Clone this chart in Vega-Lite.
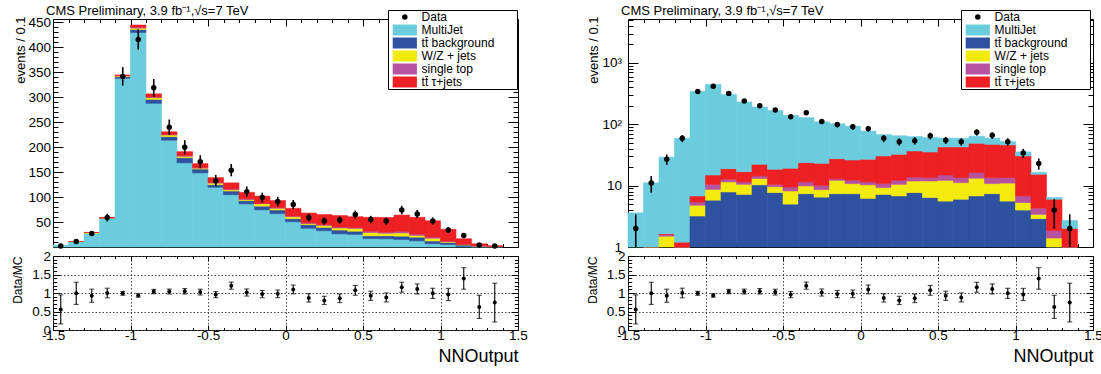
{
  "$schema": "https://vega.github.io/schema/vega-lite/v6.json",
  "background": "white",
  "padding": {"left": 11, "top": 4, "right": 5, "bottom": 5},
  "datasets": {
    "bins": [
      {"lo":-1.5,"hi":-1.4,"c":-1.45,"mj":3.6,"ttbg":0,"wz":0,"st":0,"tau":0,"n":2,"nlo":0.59,"nhi":3.41,"r":0.556,"rlo":0.163,"rhi":0.949},
      {"lo":-1.4,"hi":-1.3,"c":-1.35,"mj":11.0,"ttbg":0,"wz":0.05,"st":0,"tau":0.05,"n":11,"nlo":7.68,"nhi":14.32,"r":0.991,"rlo":0.692,"rhi":1.29},
      {"lo":-1.3,"hi":-1.2,"c":-1.25,"mj":27.5,"ttbg":0,"wz":1.5,"st":0.1,"tau":0.05,"n":27,"nlo":21.8,"nhi":32.2,"r":0.926,"rlo":0.748,"rhi":1.104},
      {"lo":-1.2,"hi":-1.1,"c":-1.15,"mj":57.8,"ttbg":0.2,"wz":0.3,"st":0.2,"tau":0.5,"n":59,"nlo":51.3,"nhi":66.7,"r":1.0,"rlo":0.87,"rhi":1.13},
      {"lo":-1.1,"hi":-1.0,"c":-1.05,"mj":338,"ttbg":3.2,"wz":1.6,"st":0.6,"tau":1.4,"n":342,"nlo":323.5,"nhi":360.5,"r":0.992,"rlo":0.938,"rhi":1.045},
      {"lo":-1.0,"hi":-0.9,"c":-0.95,"mj":430,"ttbg":5.8,"wz":2.9,"st":1.8,"tau":4.4,"n":416,"nlo":395.6,"nhi":436.4,"r":0.935,"rlo":0.889,"rhi":0.981},
      {"lo":-0.9,"hi":-0.8,"c":-0.85,"mj":288,"ttbg":7.9,"wz":3.6,"st":1.2,"tau":6.2,"n":319,"nlo":301.1,"nhi":336.9,"r":1.039,"rlo":0.981,"rhi":1.098},
      {"lo":-0.8,"hi":-0.7,"c":-0.75,"mj":214,"ttbg":7.2,"wz":3.3,"st":1.0,"tau":5.4,"n":240,"nlo":224.5,"nhi":255.5,"r":1.039,"rlo":0.972,"rhi":1.106},
      {"lo":-0.7,"hi":-0.6,"c":-0.65,"mj":168.7,"ttbg":10.3,"wz":2.8,"st":1.3,"tau":7.9,"n":200,"nlo":185.9,"nhi":214.1,"r":1.047,"rlo":0.973,"rhi":1.121},
      {"lo":-0.6,"hi":-0.5,"c":-0.55,"mj":148.5,"ttbg":7.7,"wz":1.9,"st":0.9,"tau":8.0,"n":171,"nlo":157.9,"nhi":184.1,"r":1.024,"rlo":0.946,"rhi":1.102},
      {"lo":-0.5,"hi":-0.4,"c":-0.45,"mj":119.8,"ttbg":5.0,"wz":3.2,"st":1.3,"tau":9.7,"n":133,"nlo":121.5,"nhi":144.5,"r":0.957,"rlo":0.874,"rhi":1.04},
      {"lo":-0.4,"hi":-0.3,"c":-0.35,"mj":104.8,"ttbg":7.4,"wz":2.5,"st":1.6,"tau":12.2,"n":154,"nlo":141.6,"nhi":166.4,"r":1.198,"rlo":1.102,"rhi":1.295},
      {"lo":-0.3,"hi":-0.2,"c":-0.25,"mj":86.4,"ttbg":6.5,"wz":2.1,"st":1.5,"tau":13.0,"n":111,"nlo":100.5,"nhi":121.5,"r":1.014,"rlo":0.917,"rhi":1.11},
      {"lo":-0.2,"hi":-0.1,"c":-0.15,"mj":74.5,"ttbg":7.4,"wz":4.8,"st":0.7,"tau":14.6,"n":99,"nlo":89.1,"nhi":108.9,"r":0.971,"rlo":0.873,"rhi":1.068},
      {"lo":-0.1,"hi":0,"c":-0.05,"mj":66.8,"ttbg":7.4,"wz":3.4,"st":1.5,"tau":13.9,"n":91,"nlo":81.5,"nhi":100.5,"r":0.978,"rlo":0.876,"rhi":1.081},
      {"lo":0,"hi":0.1,"c":0.05,"mj":50.6,"ttbg":6.2,"wz":4.1,"st":1.2,"tau":15.4,"n":85,"nlo":75.8,"nhi":94.2,"r":1.097,"rlo":0.978,"rhi":1.216},
      {"lo":0.1,"hi":0.2,"c":0.15,"mj":37.5,"ttbg":7.2,"wz":2.1,"st":1.5,"tau":19.7,"n":59,"nlo":51.3,"nhi":66.7,"r":0.868,"rlo":0.755,"rhi":0.981},
      {"lo":0.2,"hi":0.3,"c":0.25,"mj":32.6,"ttbg":6.8,"wz":3.7,"st":1.7,"tau":20.2,"n":52,"nlo":44.8,"nhi":59.2,"r":0.8,"rlo":0.689,"rhi":0.911},
      {"lo":0.3,"hi":0.4,"c":0.35,"mj":26.3,"ttbg":7.7,"wz":4.2,"st":1.9,"tau":22.9,"n":54,"nlo":46.7,"nhi":61.3,"r":0.857,"rlo":0.74,"rhi":0.974},
      {"lo":0.4,"hi":0.5,"c":0.45,"mj":25.3,"ttbg":6.4,"wz":5.5,"st":1.6,"tau":21.9,"n":65,"nlo":56.9,"nhi":73.1,"r":1.071,"rlo":0.938,"rhi":1.204},
      {"lo":0.5,"hi":0.6,"c":0.55,"mj":16.8,"ttbg":5.6,"wz":6.6,"st":2.7,"tau":27.8,"n":55,"nlo":47.6,"nhi":62.4,"r":0.924,"rlo":0.8,"rhi":1.049},
      {"lo":0.6,"hi":0.7,"c":0.65,"mj":16.4,"ttbg":6.0,"wz":5.2,"st":2.3,"tau":29.2,"n":52,"nlo":44.8,"nhi":59.2,"r":0.88,"rlo":0.758,"rhi":1.002},
      {"lo":0.7,"hi":0.8,"c":0.75,"mj":15.0,"ttbg":6.8,"wz":6.4,"st":3.1,"tau":32.7,"n":74,"nlo":65.4,"nhi":82.6,"r":1.156,"rlo":1.022,"rhi":1.291},
      {"lo":0.8,"hi":0.9,"c":0.85,"mj":12.3,"ttbg":7.4,"wz":3.4,"st":2.7,"tau":33.7,"n":66,"nlo":57.9,"nhi":74.1,"r":1.109,"rlo":0.973,"rhi":1.246},
      {"lo":0.9,"hi":1.0,"c":0.95,"mj":6.5,"ttbg":5.6,"wz":5.4,"st":2.5,"tau":32.5,"n":52,"nlo":44.8,"nhi":59.2,"r":0.99,"rlo":0.853,"rhi":1.128},
      {"lo":1.0,"hi":1.1,"c":1.05,"mj":4.9,"ttbg":4.0,"wz":1.3,"st":1.5,"tau":23.7,"n":34,"nlo":28.2,"nhi":39.8,"r":0.96,"rlo":0.796,"rhi":1.125},
      {"lo":1.1,"hi":1.2,"c":1.15,"mj":1.2,"ttbg":2.9,"wz":0.5,"st":0.9,"tau":11.0,"n":23,"nlo":18.2,"nhi":27.8,"r":1.394,"rlo":1.103,"rhi":1.685},
      {"lo":1.2,"hi":1.3,"c":1.25,"mj":0.4,"ttbg":0.9,"wz":0.5,"st":0.45,"tau":4.15,"n":4,"nlo":2,"nhi":6,"r":0.625,"rlo":0.313,"rhi":0.938},
      {"lo":1.3,"hi":1.4,"c":1.35,"mj":0.7,"ttbg":0.1,"wz":0.1,"st":0.1,"tau":1.7,"n":2,"nlo":0.59,"nhi":3.41,"r":0.741,"rlo":0.217,"rhi":1.264},
      {"lo":1.4,"hi":1.5,"c":1.45,"mj":0,"ttbg":0,"wz":0,"st":0,"tau":0,"n":null,"nlo":null,"nhi":null,"r":null,"rlo":null,"rhi":null}
    ]
  },
  "bounds": "flush",
  "columns": 2,
  "spacing": {"row": 9, "column": 110},
  "resolve": {"scale": {"color": "independent", "stroke": "independent", "shape": "independent"}},
  "concat": [
    {
      "width": 465, "height": 228,
      "data": {"name": "bins"},
      "title": {"text": "CMS Preliminary, 3.9 fb⁻¹,√s=7 TeV", "anchor": "start", "frame": "group", "dx": -7, "dy": 25, "offset": 4, "baseline": "bottom", "fontSize": 13, "font": "Liberation Sans", "fontWeight": "normal", "color": "black"},
      "resolve": {"axis": {"x": "independent", "y": "independent"}},
      "layer": [
        {
          "transform": [
            {"fold": ["mj", "ttbg", "wz", "st", "tau"], "as": ["comp", "v"]},
            {"filter": "datum.v > 0"},
            {"stack": "v", "groupby": ["lo"], "as": ["v0", "v1"]}
          ],
          "mark": {"type": "rect", "strokeWidth": 0.6},
          "encoding": {
            "x": {"field": "lo", "type": "quantitative", "scale": {"domain": [-1.5, 1.5], "nice": false, "zero": false},
                  "axis": {"orient": "bottom", "values": [-1.5,-1,-0.5,0,0.5,1,1.5], "labels": false, "tickSize": -7, "title": null}},
            "x2": {"field": "hi"},
            "y": {"field": "v1", "type": "quantitative", "scale": {"domain": [0, 457], "nice": false, "zero": false},
                  "axis": {"orient": "left", "values": [50,100,150,200,250,300,350,400,450], "tickSize": -10, "labelPadding": 12.5,
                           "title": "events / 0.1", "titleX": -32.5, "titleY": -3, "titleAngle": -90, "titleAlign": "right", "titleBaseline": "middle"}},
            "y2": {"field": "v0"},
            "stroke": {"field": "comp", "type": "nominal", "legend": null,
              "scale": {"domain": ["data", "mj", "ttbg", "wz", "st", "tau"], "range": ["#000000", "#6bccdd", "#2e52a0", "#f3eb0d", "#b652a0", "#ed2024"]}},
            "color": {"field": "comp", "type": "nominal",
              "scale": {"domain": ["data", "mj", "ttbg", "wz", "st", "tau"], "range": ["#000000", "#6bccdd", "#2e52a0", "#f3eb0d", "#b652a0", "#ed2024"]},
              "legend": {
                "title": "|", "titleColor": "white", "titleOrient": "right", "titlePadding": 18, "titleFontSize": 12,
                "orient": "none", "legendX": 335, "legendY": -9, "zindex": 2,
                "strokeColor": "black", "fillColor": "white", "padding": 1, "cornerRadius": 0,
                "rowPadding": 1, "symbolOffset": 9.8, "labelOffset": 10.8,
                "symbolType": "M-2.2,-1H2.2V1H-2.2Z", "symbolSize": 121, "symbolStrokeWidth": 0,
                "labelFont": "Liberation Sans", "labelFontSize": 12, "labelColor": "black",
                "labelExpr": "datum.value == 'data' ? 'Data' : datum.value == 'mj' ? 'MultiJet' : datum.value == 'ttbg' ? 'tt̄ background' : datum.value == 'wz' ? 'W/Z + jets' : datum.value == 'st' ? 'single top' : 'tt̄ τ+jets'",
                "encode": {"symbols": {"update": {
                  "shape": {"signal": "datum.value == 'data' ? 'circle' : 'M-2.2,-1H2.2V1H-2.2Z'"},
                  "size": {"signal": "datum.value == 'data' ? 30 : 121"}}}}
              }}
          }
        },
        {
          "mark": {"type": "rule", "color": "black", "strokeWidth": 1.6},
          "encoding": {
            "x": {"field": "c", "type": "quantitative", "scale": {"domain": [-1.5, 1.5], "nice": false, "zero": false},
                  "axis": {"orient": "bottom", "values": [-1.4,-1.3,-1.2,-1.1,-0.9,-0.8,-0.7,-0.6,-0.4,-0.3,-0.2,-0.1,0.1,0.2,0.3,0.4,0.6,0.7,0.8,0.9,1.1,1.2,1.3,1.4], "labels": false, "tickSize": -3.5, "title": null}},
            "y": {"field": "nlo", "type": "quantitative", "scale": {"domain": [0, 457], "nice": false, "zero": false},
                  "axis": {"orient": "left", "values": [10,20,30,40,60,70,80,90,110,120,130,140,160,170,180,190,210,220,230,240,260,270,280,290,310,320,330,340,360,370,380,390,410,420,430,440], "labels": false, "tickSize": -5, "title": null}},
            "y2": {"field": "nhi"}
          }
        },
        {
          "mark": {"type": "point", "filled": true, "color": "black", "size": 30, "opacity": 1, "strokeWidth": 0},
          "encoding": {
            "x": {"field": "c", "type": "quantitative", "scale": {"domain": [-1.5, 1.5], "nice": false, "zero": false},
                  "axis": {"orient": "top", "values": [-1.5,-1,-0.5,0,0.5,1,1.5], "labels": false, "tickSize": -7, "title": null}},
            "y": {"field": "n", "type": "quantitative", "scale": {"domain": [0, 457], "nice": false, "zero": false},
                  "axis": {"orient": "right", "values": [50,100,150,200,250,300,350,400,450], "labels": false, "tickSize": -10, "title": null}}
          }
        },
        {
          "mark": {"type": "point", "opacity": 0},
          "encoding": {
            "x": {"field": "c", "type": "quantitative", "scale": {"domain": [-1.5, 1.5], "nice": false, "zero": false},
                  "axis": {"orient": "top", "values": [-1.4,-1.3,-1.2,-1.1,-0.9,-0.8,-0.7,-0.6,-0.4,-0.3,-0.2,-0.1,0.1,0.2,0.3,0.4,0.6,0.7,0.8,0.9,1.1,1.2,1.3,1.4], "labels": false, "tickSize": -3.5, "title": null}},
            "y": {"field": "n", "type": "quantitative", "scale": {"domain": [0, 457], "nice": false, "zero": false},
                  "axis": {"orient": "right", "values": [10,20,30,40,60,70,80,90,110,120,130,140,160,170,180,190,210,220,230,240,260,270,280,290,310,320,330,340,360,370,380,390,410,420,430,440], "labels": false, "tickSize": -5, "title": null}},
            "shape": {"field": "c", "type": "nominal",
              "scale": {"domain": ["shadow"], "range": ["square"]},
              "legend": {
                "title": null, "orient": "none", "legendX": 338, "legendY": -6, "zindex": 1,
                "padding": 0, "strokeColor": null, "fillColor": null,
                "symbolType": "M-1.65,-1H1.65V1H-1.65Z", "symbolSize": 6241, "symbolOffset": 0,
                "symbolFillColor": "black", "symbolStrokeColor": "black", "symbolStrokeWidth": 0, "symbolOpacity": 1,
                "labelExpr": "''", "labelFontSize": 1, "labelOffset": 0
              }}
          }
        }
      ]
    },
    {
      "width": 465, "height": 228,
      "data": {"name": "bins"},
      "title": {"text": "CMS Preliminary, 3.9 fb⁻¹,√s=7 TeV", "anchor": "start", "frame": "group", "dx": -7, "dy": 25, "offset": 4, "baseline": "bottom", "fontSize": 13, "font": "Liberation Sans", "fontWeight": "normal", "color": "black"},
      "resolve": {"axis": {"x": "independent", "y": "independent"}},
      "layer": [
        {
          "transform": [
            {"fold": ["ttbg", "wz", "st", "tau", "mj"], "as": ["comp", "v"]},
            {"filter": "datum.v > 0"},
            {"stack": "v", "groupby": ["lo"], "as": ["v0", "v1"]}
          ],
          "mark": {"type": "rect", "strokeWidth": 0.6},
          "encoding": {
            "x": {"field": "lo", "type": "quantitative", "scale": {"domain": [-1.5, 1.5], "nice": false, "zero": false},
                  "axis": {"orient": "bottom", "values": [-1.5,-1,-0.5,0,0.5,1,1.5], "labels": false, "tickSize": -7, "title": null}},
            "x2": {"field": "hi"},
            "y": {"field": "v1", "type": "quantitative", "scale": {"type": "log", "domain": [1, 5200], "nice": false, "clamp": true},
                  "axis": {"orient": "left", "values": [1, 10, 100, 1000], "labelExpr": "datum.value == 100 ? '10²' : datum.value == 1000 ? '10³' : toString(datum.value)", "tickSize": -10, "labelPadding": 16.5,
                           "title": "events / 0.1", "titleX": -35, "titleY": -3, "titleAngle": -90, "titleAlign": "right", "titleBaseline": "middle"}},
            "y2": {"field": "v0"},
            "stroke": {"field": "comp", "type": "nominal", "legend": null,
              "scale": {"domain": ["data", "mj", "ttbg", "wz", "st", "tau"], "range": ["#000000", "#6bccdd", "#2e52a0", "#f3eb0d", "#b652a0", "#ed2024"]}},
            "color": {"field": "comp", "type": "nominal",
              "scale": {"domain": ["data", "mj", "ttbg", "wz", "st", "tau"], "range": ["#000000", "#6bccdd", "#2e52a0", "#f3eb0d", "#b652a0", "#ed2024"]},
              "legend": {
                "title": "|", "titleColor": "white", "titleOrient": "right", "titlePadding": 18, "titleFontSize": 12,
                "orient": "none", "legendX": 333, "legendY": -9, "zindex": 2,
                "strokeColor": "black", "fillColor": "white", "padding": 1, "cornerRadius": 0,
                "rowPadding": 1, "symbolOffset": 9.8, "labelOffset": 10.8,
                "symbolType": "M-2.2,-1H2.2V1H-2.2Z", "symbolSize": 121, "symbolStrokeWidth": 0,
                "labelFont": "Liberation Sans", "labelFontSize": 12, "labelColor": "black",
                "labelExpr": "datum.value == 'data' ? 'Data' : datum.value == 'mj' ? 'MultiJet' : datum.value == 'ttbg' ? 'tt̄ background' : datum.value == 'wz' ? 'W/Z + jets' : datum.value == 'st' ? 'single top' : 'tt̄ τ+jets'",
                "encode": {"symbols": {"update": {
                  "shape": {"signal": "datum.value == 'data' ? 'circle' : 'M-2.2,-1H2.2V1H-2.2Z'"},
                  "size": {"signal": "datum.value == 'data' ? 30 : 121"}}}}
              }}
          }
        },
        {
          "mark": {"type": "rule", "color": "black", "strokeWidth": 1.6},
          "encoding": {
            "x": {"field": "c", "type": "quantitative", "scale": {"domain": [-1.5, 1.5], "nice": false, "zero": false},
                  "axis": {"orient": "bottom", "values": [-1.4,-1.3,-1.2,-1.1,-0.9,-0.8,-0.7,-0.6,-0.4,-0.3,-0.2,-0.1,0.1,0.2,0.3,0.4,0.6,0.7,0.8,0.9,1.1,1.2,1.3,1.4], "labels": false, "tickSize": -3.5, "title": null}},
            "y": {"field": "nlo", "type": "quantitative", "scale": {"type": "log", "domain": [1, 5200], "nice": false, "clamp": true},
                  "axis": {"orient": "left", "values": [2,3,4,5,6,7,8,9,20,30,40,50,60,70,80,90,200,300,400,500,600,700,800,900,2000,3000,4000,5000], "labels": false, "tickSize": -5, "title": null}},
            "y2": {"field": "nhi"}
          }
        },
        {
          "mark": {"type": "point", "filled": true, "color": "black", "size": 30, "opacity": 1, "strokeWidth": 0},
          "encoding": {
            "x": {"field": "c", "type": "quantitative", "scale": {"domain": [-1.5, 1.5], "nice": false, "zero": false},
                  "axis": {"orient": "top", "values": [-1.5,-1,-0.5,0,0.5,1,1.5], "labels": false, "tickSize": -7, "title": null}},
            "y": {"field": "n", "type": "quantitative", "scale": {"type": "log", "domain": [1, 5200], "nice": false, "clamp": true},
                  "axis": {"orient": "right", "values": [1, 10, 100, 1000], "labels": false, "tickSize": -10, "title": null}}
          }
        },
        {
          "mark": {"type": "point", "opacity": 0},
          "encoding": {
            "x": {"field": "c", "type": "quantitative", "scale": {"domain": [-1.5, 1.5], "nice": false, "zero": false},
                  "axis": {"orient": "top", "values": [-1.4,-1.3,-1.2,-1.1,-0.9,-0.8,-0.7,-0.6,-0.4,-0.3,-0.2,-0.1,0.1,0.2,0.3,0.4,0.6,0.7,0.8,0.9,1.1,1.2,1.3,1.4], "labels": false, "tickSize": -3.5, "title": null}},
            "y": {"field": "n", "type": "quantitative", "scale": {"type": "log", "domain": [1, 5200], "nice": false, "clamp": true},
                  "axis": {"orient": "right", "values": [2,3,4,5,6,7,8,9,20,30,40,50,60,70,80,90,200,300,400,500,600,700,800,900,2000,3000,4000,5000], "labels": false, "tickSize": -5, "title": null}},
            "shape": {"field": "c", "type": "nominal",
              "scale": {"domain": ["shadow"], "range": ["square"]},
              "legend": {
                "title": null, "orient": "none", "legendX": 336, "legendY": -6, "zindex": 1,
                "padding": 0, "strokeColor": null, "fillColor": null,
                "symbolType": "M-1.65,-1H1.65V1H-1.65Z", "symbolSize": 6241, "symbolOffset": 0,
                "symbolFillColor": "black", "symbolStrokeColor": "black", "symbolStrokeWidth": 0, "symbolOpacity": 1,
                "labelExpr": "''", "labelFontSize": 1, "labelOffset": 0
              }}
          }
        }
      ]
    },
    {
      "width": 465, "height": 74,
      "data": {"name": "bins"},
      "resolve": {"axis": {"x": "independent", "y": "independent"}},
      "layer": [
        {
          "mark": {"type": "rule", "color": "black", "strokeWidth": 1.1},
          "encoding": {
            "x": {"field": "c", "type": "quantitative", "scale": {"domain": [-1.5, 1.5], "nice": false, "zero": false},
                  "axis": {"orient": "bottom", "values": [-1.5,-1,-0.5,0,0.5,1,1.5], "labelExpr": "toString(datum.value)", "tickSize": -5, "labelPadding": 3,
                           "grid": true, "gridDash": [1.5, 2], "gridColor": "#444", "gridWidth": 1,
                           "title": "NNOutput", "titleFontSize": 18, "titleX": 465, "titleY": 26, "titleAlign": "right", "titleBaseline": "middle"}},
            "y": {"field": "rlo", "type": "quantitative", "scale": {"domain": [0, 2], "nice": false, "zero": false},
                  "axis": {"orient": "left", "values": [0, 0.5, 1, 1.5, 2], "labelExpr": "toString(datum.value)", "tickSize": -7, "labelPadding": 9.5,
                           "grid": true, "gridDash": [1.5, 2], "gridColor": "#444", "gridWidth": 1,
                           "title": "Data/MC", "titleFontSize": 12, "titleX": -35.3, "titleY": 0, "titleAngle": -90, "titleAlign": "right", "titleBaseline": "middle"}},
            "y2": {"field": "rhi"}
          }
        },
        {
          "mark": {"type": "tick", "orient": "horizontal", "color": "black", "size": 5, "thickness": 1.1},
          "encoding": {
            "x": {"field": "c", "type": "quantitative", "scale": {"domain": [-1.5, 1.5], "nice": false, "zero": false},
                  "axis": {"orient": "bottom", "values": [-1.4,-1.3,-1.2,-1.1,-0.9,-0.8,-0.7,-0.6,-0.4,-0.3,-0.2,-0.1,0.1,0.2,0.3,0.4,0.6,0.7,0.8,0.9,1.1,1.2,1.3,1.4], "labels": false, "tickSize": -2.5, "title": null}},
            "y": {"field": "rlo", "type": "quantitative", "scale": {"domain": [0, 2], "nice": false, "zero": false},
                  "axis": {"orient": "left", "values": [0.1,0.2,0.3,0.4,0.6,0.7,0.8,0.9,1.1,1.2,1.3,1.4,1.6,1.7,1.8,1.9], "labels": false, "tickSize": -3.7, "title": null}}
          }
        },
        {
          "mark": {"type": "tick", "orient": "horizontal", "color": "black", "size": 5, "thickness": 1.1},
          "encoding": {
            "x": {"field": "c", "type": "quantitative", "scale": {"domain": [-1.5, 1.5], "nice": false, "zero": false},
                  "axis": {"orient": "top", "values": [-1.5,-1,-0.5,0,0.5,1,1.5], "labels": false, "tickSize": -5, "title": null}},
            "y": {"field": "rhi", "type": "quantitative", "scale": {"domain": [0, 2], "nice": false, "zero": false},
                  "axis": {"orient": "right", "values": [0, 0.5, 1, 1.5, 2], "labels": false, "tickSize": -7, "title": null}}
          }
        },
        {
          "mark": {"type": "point", "filled": true, "color": "black", "size": 16, "opacity": 1, "strokeWidth": 0},
          "encoding": {
            "x": {"field": "c", "type": "quantitative", "scale": {"domain": [-1.5, 1.5], "nice": false, "zero": false},
                  "axis": {"orient": "top", "values": [-1.4,-1.3,-1.2,-1.1,-0.9,-0.8,-0.7,-0.6,-0.4,-0.3,-0.2,-0.1,0.1,0.2,0.3,0.4,0.6,0.7,0.8,0.9,1.1,1.2,1.3,1.4], "labels": false, "tickSize": -2.5, "title": null}},
            "y": {"field": "r", "type": "quantitative", "scale": {"domain": [0, 2], "nice": false, "zero": false},
                  "axis": {"orient": "right", "values": [0.1,0.2,0.3,0.4,0.6,0.7,0.8,0.9,1.1,1.2,1.3,1.4,1.6,1.7,1.8,1.9], "labels": false, "tickSize": -3.7, "title": null}}
          }
        }
      ]
    },
    {
      "width": 465, "height": 74,
      "data": {"name": "bins"},
      "resolve": {"axis": {"x": "independent", "y": "independent"}},
      "layer": [
        {
          "mark": {"type": "rule", "color": "black", "strokeWidth": 1.1},
          "encoding": {
            "x": {"field": "c", "type": "quantitative", "scale": {"domain": [-1.5, 1.5], "nice": false, "zero": false},
                  "axis": {"orient": "bottom", "values": [-1.5,-1,-0.5,0,0.5,1,1.5], "labelExpr": "toString(datum.value)", "tickSize": -5, "labelPadding": 3,
                           "grid": true, "gridDash": [1.5, 2], "gridColor": "#444", "gridWidth": 1,
                           "title": "NNOutput", "titleFontSize": 18, "titleX": 465, "titleY": 26, "titleAlign": "right", "titleBaseline": "middle"}},
            "y": {"field": "rlo", "type": "quantitative", "scale": {"domain": [0, 2], "nice": false, "zero": false},
                  "axis": {"orient": "left", "values": [0, 0.5, 1, 1.5, 2], "labelExpr": "toString(datum.value)", "tickSize": -7, "labelPadding": 10,
                           "grid": true, "gridDash": [1.5, 2], "gridColor": "#444", "gridWidth": 1,
                           "title": "Data/MC", "titleFontSize": 12, "titleX": -35.7, "titleY": 0, "titleAngle": -90, "titleAlign": "right", "titleBaseline": "middle"}},
            "y2": {"field": "rhi"}
          }
        },
        {
          "mark": {"type": "tick", "orient": "horizontal", "color": "black", "size": 5, "thickness": 1.1},
          "encoding": {
            "x": {"field": "c", "type": "quantitative", "scale": {"domain": [-1.5, 1.5], "nice": false, "zero": false},
                  "axis": {"orient": "bottom", "values": [-1.4,-1.3,-1.2,-1.1,-0.9,-0.8,-0.7,-0.6,-0.4,-0.3,-0.2,-0.1,0.1,0.2,0.3,0.4,0.6,0.7,0.8,0.9,1.1,1.2,1.3,1.4], "labels": false, "tickSize": -2.5, "title": null}},
            "y": {"field": "rlo", "type": "quantitative", "scale": {"domain": [0, 2], "nice": false, "zero": false},
                  "axis": {"orient": "left", "values": [0.1,0.2,0.3,0.4,0.6,0.7,0.8,0.9,1.1,1.2,1.3,1.4,1.6,1.7,1.8,1.9], "labels": false, "tickSize": -3.7, "title": null}}
          }
        },
        {
          "mark": {"type": "tick", "orient": "horizontal", "color": "black", "size": 5, "thickness": 1.1},
          "encoding": {
            "x": {"field": "c", "type": "quantitative", "scale": {"domain": [-1.5, 1.5], "nice": false, "zero": false},
                  "axis": {"orient": "top", "values": [-1.5,-1,-0.5,0,0.5,1,1.5], "labels": false, "tickSize": -5, "title": null}},
            "y": {"field": "rhi", "type": "quantitative", "scale": {"domain": [0, 2], "nice": false, "zero": false},
                  "axis": {"orient": "right", "values": [0, 0.5, 1, 1.5, 2], "labels": false, "tickSize": -7, "title": null}}
          }
        },
        {
          "mark": {"type": "point", "filled": true, "color": "black", "size": 16, "opacity": 1, "strokeWidth": 0},
          "encoding": {
            "x": {"field": "c", "type": "quantitative", "scale": {"domain": [-1.5, 1.5], "nice": false, "zero": false},
                  "axis": {"orient": "top", "values": [-1.4,-1.3,-1.2,-1.1,-0.9,-0.8,-0.7,-0.6,-0.4,-0.3,-0.2,-0.1,0.1,0.2,0.3,0.4,0.6,0.7,0.8,0.9,1.1,1.2,1.3,1.4], "labels": false, "tickSize": -2.5, "title": null}},
            "y": {"field": "r", "type": "quantitative", "scale": {"domain": [0, 2], "nice": false, "zero": false},
                  "axis": {"orient": "right", "values": [0.1,0.2,0.3,0.4,0.6,0.7,0.8,0.9,1.1,1.2,1.3,1.4,1.6,1.7,1.8,1.9], "labels": false, "tickSize": -3.7, "title": null}}
          }
        }
      ]
    }
  ],
  "config": {
    "font": "Liberation Sans",
    "view": {"stroke": "black", "strokeWidth": 1},
    "axis": {
      "domain": false, "grid": false, "tickColor": "black", "tickWidth": 1,
      "labelFont": "Liberation Sans", "labelFontSize": 13.5, "labelColor": "black",
      "titleFont": "Liberation Sans", "titleFontSize": 13, "titleFontWeight": "normal", "titleColor": "black",
      "labelFlush": false, "labelOverlap": false, "labelBound": false
    },
    "title": {"font": "Liberation Sans"}
  }
}
